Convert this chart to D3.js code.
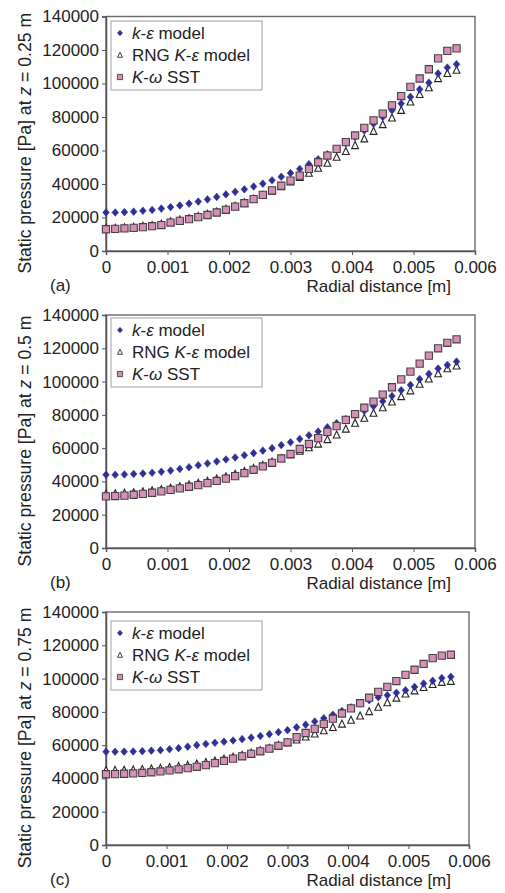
<!DOCTYPE html>
<html>
<head>
<meta charset="utf-8">
<script src="https://cdn.jsdelivr.net/npm/d3@7"></script>
<style>
  html, body { margin: 0; padding: 0; background: #ffffff; }
  svg { display: block; }
  text { font-family: "Liberation Sans", Arial, sans-serif; fill: #222; }
</style>
</head>
<body>
<svg id="chart" width="505" height="893"></svg>
<script>
// Radial sampling positions [m]
const radialDistance = [0, 0.00015, 0.0003, 0.00045, 0.0006, 0.00075, 0.0009, 0.00105, 0.0012, 0.00135,
  0.0015, 0.00165, 0.0018, 0.00195, 0.0021, 0.00225, 0.0024, 0.00255, 0.0027, 0.00285,
  0.003, 0.00315, 0.0033, 0.00345, 0.0036, 0.00375, 0.0039, 0.00405, 0.0042, 0.00435,
  0.0045, 0.00465, 0.0048, 0.00495, 0.0051, 0.00525, 0.0054, 0.00555, 0.0057];

// Static pressure [Pa] at z = 0.25 m
const kEps_z025 = [23000, 23000, 23200, 23500, 24000, 24500, 25300, 26200, 27200, 28300,
  29500, 30800, 32300, 33800, 35300, 36800, 38500, 40200, 42200, 44300,
  46500, 49000, 51800, 54800, 57800, 61000, 64400, 68000, 72000, 76000,
  80000, 84000, 88000, 92000, 96500, 100500, 106000, 109500, 111500];
const rng_z025 = [13500, 13700, 14000, 14300, 14800, 15300, 16000, 17500, 18500, 19500,
  20700, 22000, 23400, 25000, 26800, 28800, 31000, 33300, 35800, 38500,
  41300, 44000, 46500, 49500, 52500, 56000, 59500, 63000, 67000, 71500,
  75500, 79500, 84000, 89000, 93500, 97500, 103000, 106000, 108000];
const sst_z025 = [13000, 13200, 13500, 13800, 14200, 14800, 15500, 17000, 18000, 19000,
  20200, 21500, 23000, 24600, 26500, 28500, 31000, 33500, 36200, 39000,
  42000, 45000, 49000, 53000, 57000, 61000, 65000, 69000, 73500, 78000,
  82000, 87000, 92500, 98000, 103000, 108500, 115000, 119500, 121000];

// Static pressure [Pa] at z = 0.5 m
const kEps_z05 = [44000, 44000, 44200, 44500, 44800, 45200, 45800, 46500, 47500, 48500,
  49700, 50800, 52000, 53200, 54400, 55700, 57000, 58500, 60000, 61800,
  63500, 65500, 67700, 70000, 72500, 75000, 77500, 80000, 82500, 85200,
  88200, 91300, 94800, 98000, 101500, 104600, 107800, 110000, 112000];
const rng_z05 = [32500, 32600, 32900, 33300, 33800, 34400, 35100, 36000, 36900, 37900,
  39000, 40200, 41500, 42900, 44400, 46000, 47800, 49700, 51700, 53800,
  56000, 58200, 60300, 62500, 65200, 68000, 71500, 75000, 78000, 81000,
  84300, 87800, 91000, 94500, 98500, 101600, 104800, 107800, 109400];
const sst_z05 = [31000, 31200, 31500, 32000, 32500, 33200, 34000, 34900, 35800, 36800,
  37800, 39000, 40300, 41700, 43200, 45000, 47000, 49000, 51200, 53800,
  56500, 59500, 62500, 66000, 69800, 73200, 77000, 80500, 84300, 88000,
  92200, 96600, 101300, 106000, 110800, 115600, 120000, 123300, 125400];

// Static pressure [Pa] at z = 0.75 m
const kEps_z075 = [56000, 56000, 56100, 56200, 56400, 56700, 57000, 57500, 58200, 59100,
  60000, 60700, 61400, 62100, 62800, 63600, 64500, 65500, 66600, 67800,
  69000, 70700, 72300, 74200, 76200, 78300, 80500, 82700, 85000, 87000,
  88800, 90000, 91500, 93000, 95000, 97000, 98700, 100300, 101100];
const rng_z075 = [44800, 44900, 45000, 45200, 45400, 45700, 46100, 46600, 47200, 47900,
  48700, 49600, 50600, 51700, 52800, 54000, 55300, 56700, 58200, 59800,
  61500, 63200, 65000, 66800, 68700, 70700, 72700, 75000, 77600, 80200,
  82800, 85500, 88300, 90800, 92700, 94700, 96500, 97800, 98400];
const sst_z075 = [42500, 42600, 42800, 43000, 43300, 43700, 44200, 44800, 45500, 46200,
  47000, 48000, 49200, 50500, 51900, 53300, 54800, 56300, 57900, 59600,
  61700, 64800, 67300, 69800, 72800, 75900, 79000, 82100, 85200, 88500,
  92000, 95000, 98500, 102200, 105300, 108800, 112300, 113800, 114300];

// Axis ticks and labels
const pressureTicks = [0, 20000, 40000, 60000, 80000, 100000, 120000, 140000];
const radialTicks = [0, 0.001, 0.002, 0.003, 0.004, 0.005, 0.006];
const panelHeights = ["0.25", "0.5", "0.75"];
const panelTags = ["(a)", "(b)", "(c)"];
const xAxisTitle = "Radial distance [m]";

// Series in drawing order (legend order is k-ε, RNG, SST)
const seriesByPanel = [
  { kEps: kEps_z025, rng: rng_z025, sst: sst_z025 },
  { kEps: kEps_z05,  rng: rng_z05,  sst: sst_z05 },
  { kEps: kEps_z075, rng: rng_z075, sst: sst_z075 }
];

// Page layout for the three stacked panels
const layout = [
  { left: 106, right: 475, top: 16.5, bottom: 251, legendTop: 21 },
  { left: 106, right: 475, top: 315,  bottom: 548, legendTop: 318 },
  { left: 106, right: 469, top: 612,  bottom: 845, legendTop: 621 }
];

const FONT = 17;
const svg = d3.select("#chart");

// Marker shapes
const diamondPath = (w, h) => `M0,${-h}L${w},0L0,${h}L${-w},0Z`;
const trianglePath = (w, h) => `M0,${-h}L${w},${h * 0.8}L${-w},${h * 0.8}Z`;
const squarePath = s => `M${-s},${-s}H${s}V${s}H${-s}Z`;

const styles = {
  kEps: { d: diamondPath(3.3, 3.8), fill: "#2f2f96", stroke: "#2f2f96", sw: 0.6,
          dl: diamondPath(2.6, 2.8) },
  rng:  { d: trianglePath(3.4, 3.9), fill: "#ffffff", stroke: "#262626", sw: 1.1,
          dl: trianglePath(2.5, 2.8) },
  sst:  { d: squarePath(3.6), fill: "#d690b8", stroke: "#4a3f46", sw: 1.1,
          dl: squarePath(2.6) }
};

function greekLabel(sel, parts) {
  parts.forEach(p => {
    const t = sel.append("tspan").text(p.t);
    if (p.i) t.attr("font-style", "italic");
  });
}

layout.forEach((L, pi) => {
  const g = svg.append("g");
  const x = d3.scaleLinear().domain([0, 0.006]).range([L.left, L.right]);
  const y = d3.scaleLinear().domain([0, 140000]).range([L.bottom, L.top]);

  // plot frame
  g.append("rect")
    .attr("x", L.left).attr("y", L.top)
    .attr("width", L.right - L.left).attr("height", L.bottom - L.top)
    .attr("fill", "#ffffff").attr("stroke", "#6a6a6a").attr("stroke-width", 1.4);

  // y axis
  const ya = g.append("g").attr("transform", `translate(${L.left},0)`)
    .call(d3.axisLeft(y).tickValues(pressureTicks).tickSize(4).tickPadding(3)
      .tickFormat(d3.format("d")));
  ya.select(".domain").attr("stroke", "#555").attr("stroke-width", 1.5);
  ya.selectAll(".tick line").attr("stroke", "#555");
  ya.selectAll("text").attr("font-size", FONT).attr("fill", "#222")
    .attr("font-family", "Liberation Sans, Arial, sans-serif");

  // x axis
  const xa = g.append("g").attr("transform", `translate(0,${L.bottom})`)
    .call(d3.axisBottom(x).tickValues(radialTicks).tickSize(4).tickPadding(6)
      .tickFormat(d => d === 0 ? "0" : d3.format(".3f")(d)));
  xa.select(".domain").attr("stroke", "#555").attr("stroke-width", 1.5);
  xa.selectAll(".tick line").attr("stroke", "#555");
  xa.selectAll("text").attr("font-size", FONT).attr("fill", "#222")
    .attr("font-family", "Liberation Sans, Arial, sans-serif");

  // x axis title and panel tag
  g.append("text").attr("x", 451).attr("y", L.bottom + 41)
    .attr("text-anchor", "end").attr("font-size", FONT).text(xAxisTitle);
  g.append("text").attr("x", 50).attr("y", L.bottom + 40)
    .attr("font-size", FONT).text(panelTags[pi]);

  // y axis title
  const cy = (L.top + L.bottom) / 2 + 9.5;
  const yt = g.append("text")
    .attr("transform", `translate(31,${cy}) rotate(-90)`)
    .attr("text-anchor", "middle").attr("font-size", 17.6);
  greekLabel(yt, [{ t: "Static pressure [Pa] at " }, { t: "z", i: true },
    { t: " = " + panelHeights[pi] + " m" }]);

  // data markers
  const data = seriesByPanel[pi];
  ["rng", "kEps", "sst"].forEach(key => {
    const s = styles[key];
    g.append("g").selectAll("path")
      .data(radialDistance.map((r, i) => [r, data[key][i]]))
      .join("path")
      .attr("transform", d => `translate(${x(d[0])},${y(d[1])})`)
      .attr("d", s.d).attr("fill", s.fill)
      .attr("stroke", s.stroke).attr("stroke-width", s.sw);
  });

  // legend
  const lg = g.append("g").attr("transform", `translate(111,${L.legendTop})`);
  lg.append("rect").attr("width", 151).attr("height", 69)
    .attr("fill", "#ffffff").attr("stroke", "#a0a0a0").attr("stroke-width", 1);
  const entries = [
    { key: "kEps", parts: [{ t: "k", i: true }, { t: "-" }, { t: "ε", i: true }, { t: " model" }] },
    { key: "rng", parts: [{ t: "RNG " }, { t: "K", i: true }, { t: "-" }, { t: "ε", i: true }, { t: " model" }] },
    { key: "sst", parts: [{ t: "K", i: true }, { t: "-" }, { t: "ω", i: true }, { t: " SST" }] }
  ];
  entries.forEach((e, i) => {
    const ry = 12 + i * 22;
    const s = styles[e.key];
    lg.append("path").attr("transform", `translate(9,${ry})`)
      .attr("d", s.dl).attr("fill", s.fill).attr("stroke", s.stroke)
      .attr("stroke-width", e.key === "kEps" ? 0.5 : 0.9);
    const t = lg.append("text").attr("x", 21).attr("y", ry + 6).attr("font-size", FONT);
    greekLabel(t, e.parts);
  });
});
</script>
</body>
</html>
